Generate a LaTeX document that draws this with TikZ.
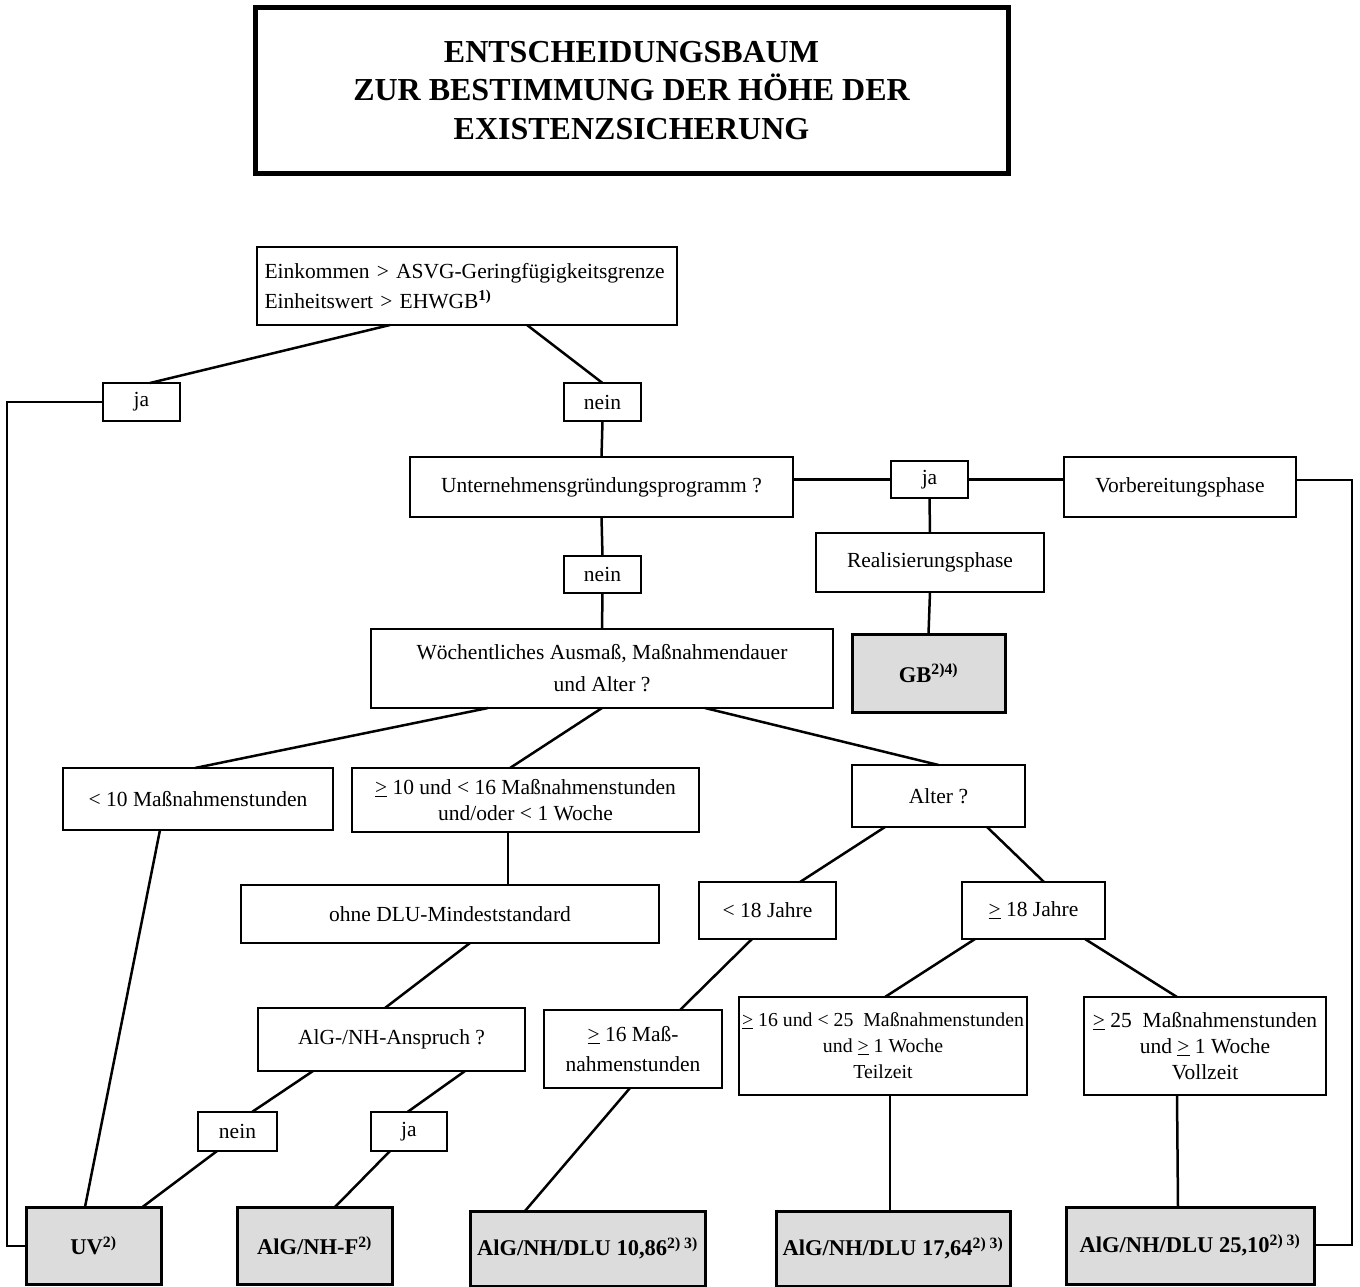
\documentclass[tikz,border=0pt]{standalone}
\usepackage{fontspec}
\setmainfont{Liberation Serif}
\definecolor{boxgray}{RGB}{220,220,220}
\newcommand\bx[7][]{\node[box,#1,minimum width={(#5)-(#3)},minimum height={(#6)-(#4)}] (#2) at ({((#3)+(#5))/2},{((#4)+(#6))/2}) {#7};}
\newcommand\geu{\underline{>}}
\begin{document}
\begin{tikzpicture}[x=1pt,y=-1pt,
  box/.style={draw,line width=2.5pt,inner sep=0pt,outer sep=0pt,align=center,font=\fontsize{21.5}{26}\selectfont},
  res/.style={fill=boxgray,line width=3pt,font=\fontsize{22.5}{27}\selectfont\bfseries},
  conn/.style={line width=2.5pt,line join=miter}]
\useasboundingbox (0,0) rectangle (1360,1287);
% title
\bx[line width=5pt,font=\fontsize{32}{38.5}\selectfont\bfseries]{title}{255}{8}{1008}{173}{ENTSCHEIDUNGSBAUM\\ZUR BESTIMMUNG DER HÖHE DER\\EXISTENZSICHERUNG}
% boxes
\bx[align=left,text width=405pt,font=\fontsize{21.5}{30}\selectfont]{top}{257}{247}{677}{325}{Einkommen > ASVG-Geringfügigkeitsgrenze\\Einheitswert > EHWGB\textsuperscript{\bfseries 1)}}
\bx{ja1}{103}{383}{180}{421}{ja}
\bx{nein1}{564}{383}{641}{421}{nein}
\bx{unt}{410}{457}{793}{517}{Unternehmensgründungsprogramm ?}
\bx{ja2}{891}{461}{968}{498}{ja}
\bx{vor}{1064}{457}{1296}{517}{Vorbereitungsphase}
\bx{real}{816}{533}{1044}{592}{Realisierungsphase}
\bx[res]{gb}{852}{634}{1005}{712}{GB\textsuperscript{2)4)}}
\bx{nein2}{564}{556}{641}{593}{nein}
\bx[font=\fontsize{21.5}{32}\selectfont]{woch}{371}{629}{833}{708}{Wöchentliches Ausmaß, Maßnahmendauer\\und Alter ?}
\bx{lt10}{63}{768}{333}{830}{< 10 Maßnahmenstunden}
\bx{ge10}{352}{768}{699}{832}{\geu{} 10 und < 16 Maßnahmenstunden\\und/oder < 1 Woche}
\bx{alter}{852}{765}{1025}{827}{Alter ?}
\bx{lt18}{699}{882}{836}{939}{< 18 Jahre}
\bx{ge18}{962}{882}{1105}{939}{\geu{} 18 Jahre}
\bx{ohne}{241}{885}{659}{943}{ohne DLU-Mindeststandard}
\bx{anspr}{258}{1008}{525}{1071}{AlG-/NH-Anspruch ?}
\bx{nein3}{198}{1112}{277}{1151}{nein}
\bx{ja3}{371}{1112}{447}{1151}{ja}
\bx[font=\fontsize{21.5}{30}\selectfont]{ge16}{544}{1010}{722}{1088}{\geu{} 16 Maß-\\nahmenstunden}
\bx[font=\fontsize{19.8}{26}\selectfont]{teil}{739}{997}{1027}{1095}{\geu{} 16 und < 25~ Maßnahmenstunden\\und \geu{} 1 Woche\\Teilzeit}
\bx{voll}{1084}{997}{1326}{1095}{\geu{} 25~ Maßnahmenstunden\\und \geu{} 1 Woche\\Vollzeit}
\bx[res]{uv}{26}{1207}{161}{1284}{UV\textsuperscript{2)}}
\bx[res]{nhf}{237}{1207}{392}{1284}{AlG/NH-F\textsuperscript{2)}}
\bx[res]{d1086}{470}{1211}{705}{1286}{AlG/NH/DLU 10,86\textsuperscript{2) 3)}}
\bx[res]{d1764}{776}{1211}{1010}{1286}{AlG/NH/DLU 17,64\textsuperscript{2) 3)}}
\bx[res]{d2510}{1066}{1207}{1314}{1284}{AlG/NH/DLU 25,10\textsuperscript{2) 3)}}
% connectors
\coordinate (lc1) at (7,402);
\coordinate (lc2) at (7,1246);
\coordinate (rc1) at (1352,480);
\coordinate (rc2) at (1352,1245);
\draw[conn] ([xshift=-77pt]top.south) -- ([xshift=8.5pt]ja1.north);
\draw[conn] ([xshift=60pt]top.south) -- (nein1.north);
\draw[conn] (ja1.west) -- (ja1.west -| lc1) -- (lc2) -- (uv.west |- lc2);
\draw[conn] (nein1.south) -- (unt.north);
\draw[conn] (ja2.west) -- (ja2.west -| unt.east);
\draw[conn] (ja2.east) -- (ja2.east -| vor.west);
\draw[conn] (vor.east |- rc1) -- (rc1) -- (rc2) -- (d2510.east |- rc2);
\draw[conn] (ja2.south) -- (real.north);
\draw[conn] (real.south) -- (gb.north);
\draw[conn] (unt.south) -- (nein2.north);
\draw[conn] (nein2.south) -- (woch.north);
\draw[conn] ([xshift=-114pt]woch.south) -- ([xshift=-3pt]lt10.north);
\draw[conn] (woch.south) -- ([xshift=-15.5pt]ge10.north);
\draw[conn] ([xshift=103pt]woch.south) -- (alter.north);
\draw[conn] ([xshift=-53.5pt]alter.south) -- ([xshift=32.5pt]lt18.north);
\draw[conn] ([xshift=48.5pt]alter.south) -- ([xshift=10.5pt]ge18.north);
\draw[conn] ([xshift=-17.5pt]ge10.south) -- ([xshift=58pt]ohne.north);
\draw[conn] ([xshift=20pt]ohne.south) -- ([xshift=-6.5pt]anspr.north);
\draw[conn] ([xshift=-78.5pt]anspr.south) -- ([xshift=14.5pt]nein3.north);
\draw[conn] ([xshift=73.5pt]anspr.south) -- ([xshift=-1.5pt]ja3.north);
\draw[conn] ([xshift=-20.5pt]nein3.south) -- ([xshift=49pt]uv.north);
\draw[conn] ([xshift=-19pt]ja3.south) -- ([xshift=20.5pt]nhf.north);
\draw[conn] ([xshift=-38pt]lt10.south) -- ([xshift=-8.5pt]uv.north);
\draw[conn] ([xshift=-15.5pt]lt18.south) -- ([xshift=47pt]ge16.north);
\draw[conn] ([xshift=-58.5pt]ge18.south) -- ([xshift=2pt]teil.north);
\draw[conn] ([xshift=51.5pt]ge18.south) -- ([xshift=-28pt]voll.north);
\draw[conn] ([xshift=-3pt]ge16.south) -- ([xshift=-62.5pt]d1086.north);
\draw[conn] ([xshift=7pt]teil.south) -- ([xshift=-3pt]d1764.north);
\draw[conn] ([xshift=-28pt]voll.south) -- ([xshift=-12pt]d2510.north);
\end{tikzpicture}
\end{document}
